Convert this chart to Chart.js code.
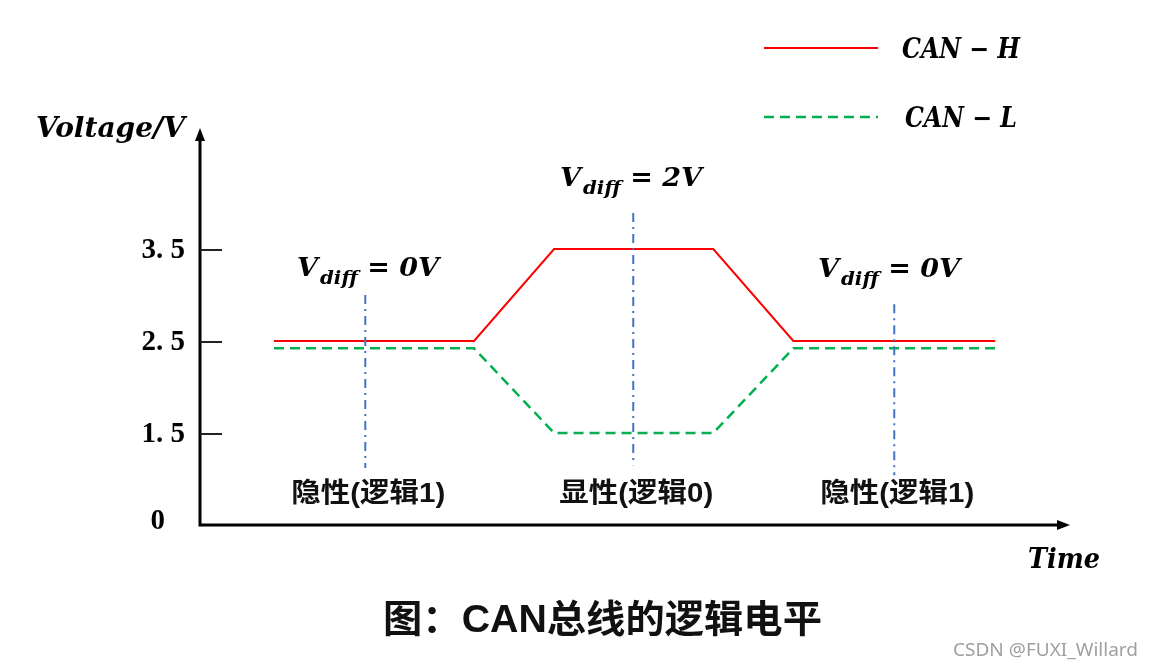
<!DOCTYPE html>
<html>
<head>
<meta charset="utf-8">
<script src="https://cdn.jsdelivr.net/npm/chart.js@4"></script>
<style>
  body { margin: 0; background: #fff; }
  canvas { display: block; }
</style>
</head>
<body>
<canvas id="canChart" width="1152" height="670"></canvas>
<script>
// data
const timePoints = [0.85, 3.15, 4.07, 5.9, 6.82, 9.14];
const canH = [2.5, 2.5, 3.5, 3.5, 2.5, 2.5];
const canL = [2.42, 2.42, 1.5, 1.5, 2.42, 2.42];
const markerTimes = [1.9, 4.98, 7.98];
const markerTop = [3.0, 3.89, 2.9];
const markerBottom = [1.12, 1.15, 1.04];
const vdiffValues = ["0V", "2V", "0V"];
const stateLabels = ["隐性(逻辑1)", "显性(逻辑0)", "隐性(逻辑1)"];
const yTickValues = [3.5, 2.5, 1.5];
const yTickLabels = ["3. 5", "2. 5", "1. 5"];
const yOrigin = 0.5; // the axis is broken: "0" sits one step under 1.5
const yOriginLabel = "0";
const seriesNames = ["CAN \u2212 H", "CAN \u2212 L"];

const mathFont = (size) => `italic bold ${size}px "DejaVu Serif", "Liberation Serif", serif`;
const cjkFont = (size) => `bold ${size}px "Liberation Sans", "Noto Sans CJK SC", sans-serif`;

// draw text squeezed/stretched to a given width
const fitText = (ctx, text, x, y, width) => {
  const w = ctx.measureText(text).width;
  ctx.save();
  ctx.translate(x, y);
  ctx.scale(width / w, 1);
  ctx.textAlign = "left";
  ctx.fillText(text, 0, 0);
  ctx.restore();
};

const arrow = (ctx, x, y, dir) => {
  ctx.beginPath();
  if (dir === "up") {
    ctx.moveTo(x, y);
    ctx.lineTo(x - 5, y + 13);
    ctx.lineTo(x + 5, y + 13);
  } else {
    ctx.moveTo(x, y);
    ctx.lineTo(x - 13, y - 5);
    ctx.lineTo(x - 13, y + 5);
  }
  ctx.closePath();
  ctx.fill();
};

const vdiff = (ctx, x, y, value, width) => {
  // V_diff = xV, measured then scaled to width
  ctx.save();
  ctx.font = mathFont(26);
  const a = ctx.measureText("V").width;
  ctx.font = mathFont(19);
  const b = ctx.measureText("diff").width;
  ctx.font = mathFont(26);
  const c = ctx.measureText(" = " + value).width;
  const k = width / (a + b + c + 2);
  ctx.translate(x, y);
  ctx.scale(k, 1);
  ctx.fillStyle = "#000";
  ctx.textBaseline = "alphabetic";
  ctx.textAlign = "left";
  ctx.fillText("V", 0, 0);
  ctx.font = mathFont(19);
  ctx.fillText("diff", a + 2, 8);
  ctx.font = mathFont(26);
  ctx.fillText(" = " + value, a + b + 2, 0);
  ctx.restore();
};

const decorPlugin = {
  id: "decor",
  afterDraw(chart) {
    const ctx = chart.ctx;
    const xs = chart.scales.x;
    const ys = chart.scales.y;
    const area = chart.chartArea;
    const x0 = area.left;
    const yb = ys.getPixelForValue(yOrigin);
    ctx.save();
    ctx.fillStyle = "#000";
    ctx.strokeStyle = "#000";

    // axes
    ctx.lineWidth = 3;
    ctx.beginPath();
    ctx.moveTo(x0, area.top + 10);
    ctx.lineTo(x0, yb);
    ctx.lineTo(area.right - 10, yb);
    ctx.stroke();
    arrow(ctx, x0, area.top, "up");
    arrow(ctx, area.right, yb, "right");

    // y ticks
    ctx.lineWidth = 2;
    ctx.strokeStyle = "#222";
    ctx.font = `bold 29px "Liberation Serif", "DejaVu Serif", serif`;
    ctx.textAlign = "right";
    ctx.textBaseline = "middle";
    yTickValues.forEach((v, i) => {
      const py = ys.getPixelForValue(v);
      ctx.beginPath();
      ctx.moveTo(x0, py + 1);
      ctx.lineTo(x0 + 22, py + 1);
      ctx.stroke();
      ctx.fillText(yTickLabels[i], 185, py + 2);
    });
    ctx.fillText(yOriginLabel, 165, yb - 3);

    // axis titles
    ctx.textBaseline = "alphabetic";
    ctx.font = mathFont(28);
    fitText(ctx, "Voltage/V", 36, 137, 149);
    fitText(ctx, "Time", 1028, 568, 72);

    // legend
    const legendY = [48, 117];
    const legendW = [118, 112];
    chart.data.datasets.slice(0, 2).forEach((ds, i) => {
      ctx.strokeStyle = ds.borderColor;
      ctx.lineWidth = ds.borderWidth;
      ctx.setLineDash(ds.borderDash || []);
      ctx.beginPath();
      ctx.moveTo(764, legendY[i]);
      ctx.lineTo(878, legendY[i]);
      ctx.stroke();
      ctx.setLineDash([]);
      ctx.fillStyle = "#000";
      ctx.font = mathFont(27);
      fitText(ctx, ds.label, i === 0 ? 902 : 905, legendY[i] + 10, legendW[i]);
    });

    // V_diff notes and state labels
    const vdiffX = [297, 560, 818];
    const vdiffY = [276, 186, 277];
    markerTimes.forEach((t, i) => {
      vdiff(ctx, vdiffX[i], vdiffY[i], vdiffValues[i], 142);
      const px = xs.getPixelForValue(t);
      ctx.font = cjkFont(27);
      ctx.fillStyle = "#111";
      ctx.textAlign = "center";
      ctx.textBaseline = "middle";
      const w = ctx.measureText(stateLabels[i]).width;
      ctx.save();
      ctx.translate(px + 3, 495);
      ctx.scale(154 / w, 1);
      ctx.fillText(stateLabels[i], 0, 0);
      ctx.restore();
    });

    // caption and watermark
    ctx.font = cjkFont(38);
    ctx.fillStyle = "#111";
    ctx.textBaseline = "middle";
    fitText(ctx, "图：CAN总线的逻辑电平", 383, 622, 439);
    ctx.font = `18px "Noto Sans", "Open Sans", sans-serif`;
    ctx.fillStyle = "#a0a0a0";
    fitText(ctx, "CSDN @FUXI_Willard", 953, 651, 185);
    ctx.restore();
  },
};

const toPoints = (xv, yv) => xv.map((x, i) => ({ x: x, y: yv[i] }));

const markerSets = markerTimes.map((t, i) => ({
  label: "marker" + i,
  data: [{ x: t, y: markerTop[i] }, { x: t, y: markerBottom[i] }],
  borderColor: "#4472C4",
  borderWidth: 2,
  borderDash: [9, 5, 2, 5],
  pointRadius: 0,
  order: 0,
}));

new Chart(document.getElementById("canChart"), {
  type: "line",
  data: {
    datasets: [
      {
        label: seriesNames[0],
        data: toPoints(timePoints, canH),
        borderColor: "#FF0000",
        borderWidth: 2,
        pointRadius: 0,
        order: 1,
      },
      {
        label: seriesNames[1],
        data: toPoints(timePoints, canL),
        borderColor: "#00B050",
        borderWidth: 2.5,
        borderDash: [10, 6],
        pointRadius: 0,
        order: 1,
      },
      ...markerSets,
    ],
  },
  options: {
    responsive: false,
    animation: false,
    devicePixelRatio: 1,
    layout: { padding: { left: 200, right: 82, top: 128, bottom: 145 } },
    plugins: { legend: { display: false }, tooltip: { enabled: false } },
    scales: {
      x: { type: "linear", min: 0, max: 10, display: false },
      y: { type: "linear", min: yOrigin, max: yOrigin + 397 / 92, display: false },
    },
  },
  plugins: [decorPlugin],
});
</script>
</body>
</html>
